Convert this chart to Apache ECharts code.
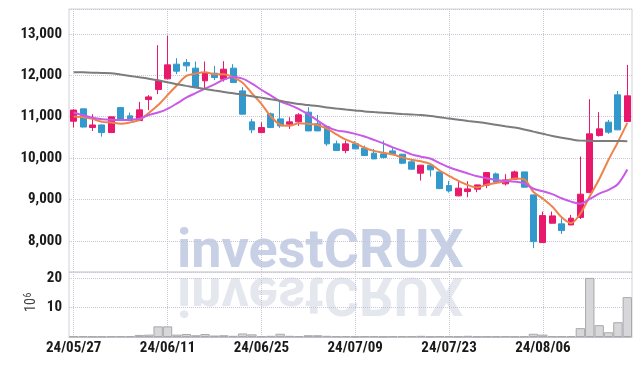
<!DOCTYPE html>
<html>
<head>
<meta charset="utf-8">
<script src="https://cdn.jsdelivr.net/npm/echarts@6/dist/echarts.min.js"></script>
<style>
  html, body { margin: 0; padding: 0; background: #fff; }
  #chart { width: 642px; height: 366px; }
</style>
</head>
<body>
<div id="chart"></div>
<script>
// Jours de cotation (AA/MM/JJ)
const dates = [
  "24/05/27", "24/05/28", "24/05/29", "24/05/30", "24/05/31",
  "24/06/03", "24/06/04", "24/06/05", "24/06/07", "24/06/10",
  "24/06/11", "24/06/12", "24/06/13", "24/06/14", "24/06/17",
  "24/06/18", "24/06/19", "24/06/20", "24/06/21", "24/06/24",
  "24/06/25", "24/06/26", "24/06/27", "24/06/28", "24/07/01",
  "24/07/02", "24/07/03", "24/07/04", "24/07/05", "24/07/08",
  "24/07/09", "24/07/10", "24/07/11", "24/07/12", "24/07/15",
  "24/07/16", "24/07/17", "24/07/18", "24/07/19", "24/07/22",
  "24/07/23", "24/07/24", "24/07/25", "24/07/26", "24/07/29",
  "24/07/30", "24/07/31", "24/08/01", "24/08/02", "24/08/05",
  "24/08/06", "24/08/07", "24/08/08", "24/08/09", "24/08/12",
  "24/08/13", "24/08/14", "24/08/16", "24/08/19", "24/08/20",
];

// Cours
const opens = [
  10890, 11190, 10740, 10800, 10617, 11220, 11020, 10906, 11413, 11655,
  11913, 12268, 12307, 12172, 11865, 12050, 11906, 12172, 11623, 10875,
  10617, 11068, 10947, 10819, 10875, 11109, 10827, 10761, 10344, 10182,
  10344, 10240, 10119, 10102, 10174, 10094, 9909, 9636, 9829, 9667,
  9337, 9088, 9192, 9250, 9346, 9619, 9378, 9491, 9667, 9112,
  7960, 8428, 8412, 8387, 8568, 9167, 10544, 10868, 11527, 10882,
];
const closes = [
  11160, 10750, 10800, 10617, 10996, 10947, 10906, 11165, 11478, 11865,
  12251, 12099, 12227, 11703, 12065, 11945, 12147, 11824, 11061, 10682,
  10737, 10737, 10778, 10875, 11044, 10657, 10657, 10344, 10182, 10344,
  10223, 10061, 9981, 10013, 10102, 9877, 9732, 9829, 9716, 9264,
  9208, 9274, 9257, 9353, 9650, 9419, 9474, 9667, 9298, 7984,
  8612, 8605, 8250, 8549, 9129, 10585, 10706, 10626, 10682, 11503,
];
const lows = [
  10740, 10740, 10655, 10520, 10610, 10930, 10895, 10900, 11157, 11544,
  11905, 12027, 12090, 11700, 11665, 11882, 11848, 11820, 11055, 10602,
  10610, 10730, 10730, 10706, 10778, 10650, 10650, 10295, 10175, 10119,
  10220, 10055, 9975, 9990, 10095, 9853, 9725, 9457, 9554, 9250,
  9168, 9080, 9056, 9177, 9274, 9415, 9337, 9485, 9290, 7825,
  7955, 8420, 8170, 8380, 8530, 9160, 10520, 10585, 10675, 10875,
];
const highs = [
  11180, 11190, 11060, 10810, 11000, 11235, 11100, 11358, 11520, 12727,
  12952, 12413, 12389, 12331, 12331, 12227, 12341, 12268, 11713, 10947,
  10866, 11100, 11365, 10988, 11085, 11230, 11044, 10770, 10423, 10423,
  10407, 10303, 10223, 10423, 10240, 10100, 9974, 9835, 9835, 9670,
  9450, 9450, 9442, 9360, 9655, 9650, 9612, 9699, 9670, 9115,
  8709, 8709, 8549, 8629, 10037, 11423, 11109, 10923, 11623, 12251,
];

// Volume (en millions)
const volumes = [
  0.3, 0.3, 0.2, 0.2, 0.3, 0.3, 0.3, 0.7, 0.8, 3.6,
  3.6, 0.8, 1.0, 0.6, 1.0, 0.5, 0.6, 0.4, 1.2, 0.9,
  0.3, 0.4, 1.1, 0.4, 0.3, 0.6, 0.6, 0.4, 0.3, 0.3,
  0.2, 0.3, 0.3, 0.2, 0.3, 0.3, 0.3, 0.4, 0.2, 0.3,
  0.3, 0.2, 0.4, 0.2, 0.2, 0.2, 0.3, 0.2, 0.2, 1.1,
  0.8, 0.3, 0.3, 0.3, 3.0, 20.0, 4.0, 1.6, 5.0, 13.5,
];

// Moyennes mobiles
const ma5 = [
  11003, 10988, 10947, 10875, 10860, 10830, 10860, 10925, 11090, 11280,
  11520, 11760, 11985, 12040, 12070, 12025, 12025, 11950, 11820, 11560,
  11310, 11010, 10805, 10780, 10840, 10825, 10800, 10710, 10575, 10445,
  10360, 10250, 10175, 10130, 10085, 10020, 9960, 9925, 9860, 9700,
  9570, 9450, 9350, 9290, 9360, 9400, 9440, 9510, 9490, 9180,
  9020, 8830, 8570, 8430, 8660, 9080, 9490, 9960, 10390, 10850,
];
const ma10 = [
  11100, 11035, 10975, 10940, 10925, 10920, 10925, 10950, 11040, 11100,
  11190, 11320, 11460, 11570, 11680, 11780, 11895, 11960, 11920, 11800,
  11650, 11515, 11370, 11285, 11185, 11055, 10905, 10760, 10670, 10635,
  10585, 10520, 10440, 10355, 10260, 10180, 10090, 10035, 9990, 9880,
  9780, 9700, 9630, 9560, 9515, 9470, 9445, 9430, 9390, 9260,
  9200, 9130, 9030, 8950, 8900, 9015, 9140, 9235, 9375, 9725,
];
const maLong = [
  12075, 12070, 12063, 12057, 12050, 12016, 11984, 11950, 11917, 11879,
  11830, 11785, 11744, 11706, 11668, 11630, 11595, 11566, 11531, 11495,
  11460, 11421, 11383, 11344, 11305, 11280, 11258, 11221, 11197, 11174,
  11152, 11128, 11111, 11096, 11081, 11065, 11053, 11040, 11016, 10989,
  10955, 10927, 10897, 10869, 10840, 10806, 10771, 10737, 10692, 10639,
  10587, 10533, 10490, 10453, 10422, 10417, 10415, 10413, 10411, 10409,
];

const FONT = '"Roboto Condensed", "DejaVu Sans Condensed", sans-serif';
const GRID_LINE = { type: "dotted", color: "#c6c6d8", width: 1 };
const LABEL = { color: "#1a1a1a", fontSize: 15, fontWeight: "bold", fontFamily: FONT };

// Données au format [open, close, low, high]
const candles = dates.map((d, i) => [opens[i], closes[i], lows[i], highs[i]]);

function maSeries(name, data, color) {
  return {
    name: name,
    type: "line",
    data: data,
    xAxisIndex: 0,
    yAxisIndex: 0,
    showSymbol: false,
    smooth: 0.3,
    z: 3,
    lineStyle: { width: 2, color: color },
  };
}

function settingsChart() {
  return {
    animation: false,
    backgroundColor: "#fff",
    grid: [
      { left: 69, right: 10, top: 9, height: 263, show: true, borderColor: "#d2d2d8" },
      { left: 69, right: 10, top: 272, height: 65, show: true, borderColor: "#d2d2d8" },
    ],
    graphic: [
      // filigrane et son reflet
      {
        type: "text", x: 177, y: 253, z: 0,
        style: { text: "investCRUX", font: 'bold 54px Roboto', fill: "#c8d0e6", verticalAlign: "middle" },
      },
      {
        type: "text", x: 177, y: 291, scaleY: -1, z: 0,
        style: { text: "investCRUX", font: 'bold 54px Roboto', fill: "#e5e7ef", verticalAlign: "middle" },
      },
      // unité du volume : 10^6
      {
        type: "text", x: 38, y: 305, rotation: Math.PI / 2,
        style: { text: "10", font: "14px " + FONT, fill: "#444", align: "center", verticalAlign: "bottom" },
      },
      {
        type: "text", x: 33, y: 295, rotation: Math.PI / 2,
        style: { text: "6", font: "10px " + FONT, fill: "#444", align: "center", verticalAlign: "bottom" },
      },
    ],
    xAxis: [
      {
        type: "category", gridIndex: 0, data: dates, boundaryGap: true,
        axisLine: { show: false }, axisTick: { show: false }, axisLabel: { show: false },
        splitLine: { show: true, interval: 9, alignWithLabel: true, lineStyle: GRID_LINE },
      },
      {
        type: "category", gridIndex: 1, data: dates, boundaryGap: true,
        axisLine: { lineStyle: { color: "#c0c0c8" } }, axisTick: { show: false },
        axisLabel: Object.assign({ interval: 9, margin: 4 }, LABEL),
        splitLine: { show: true, interval: 9, alignWithLabel: true, lineStyle: GRID_LINE },
      },
    ],
    yAxis: [
      {
        type: "value", gridIndex: 0, min: 7250, max: 13600,
        axisLine: { show: false }, axisTick: { show: false },
        axisLabel: Object.assign({
          showMinLabel: false, showMaxLabel: false, margin: 7,
          formatter: (v) => v.toLocaleString("en-US"),
        }, LABEL),
        splitLine: { lineStyle: GRID_LINE },
      },
      {
        type: "value", gridIndex: 1, min: 0, max: 22, interval: 10,
        axisLine: { show: false }, axisTick: { show: false },
        axisLabel: Object.assign({ showMinLabel: false, showMaxLabel: false, margin: 7 }, LABEL),
        splitLine: { lineStyle: GRID_LINE },
      },
    ],
    series: [
      {
        name: "Cours",
        type: "candlestick",
        data: candles,
        xAxisIndex: 0,
        yAxisIndex: 0,
        barWidth: "68%",
        itemStyle: {
          color: "#e8196b",
          color0: "#3399cc",
          borderColor: "#e8196b",
          borderColor0: "#3399cc",
          borderWidth: 1,
        },
      },
      maSeries("MA5", ma5, "#ef8249"),
      maSeries("MA10", ma10, "#c95ae8"),
      maSeries("MA long", maLong, "#7c7c7c"),
      {
        name: "Volume",
        type: "bar",
        data: volumes,
        xAxisIndex: 1,
        yAxisIndex: 1,
        barWidth: "100%",
        itemStyle: { color: "#d7d7d9", borderColor: "#a9a9ad", borderWidth: 1 },
      },
    ],
  };
}

const dom = document.getElementById("chart");
const myChart = echarts.init(dom, null, { renderer: "canvas" });
myChart.setOption(settingsChart());
</script>
</body>
</html>
